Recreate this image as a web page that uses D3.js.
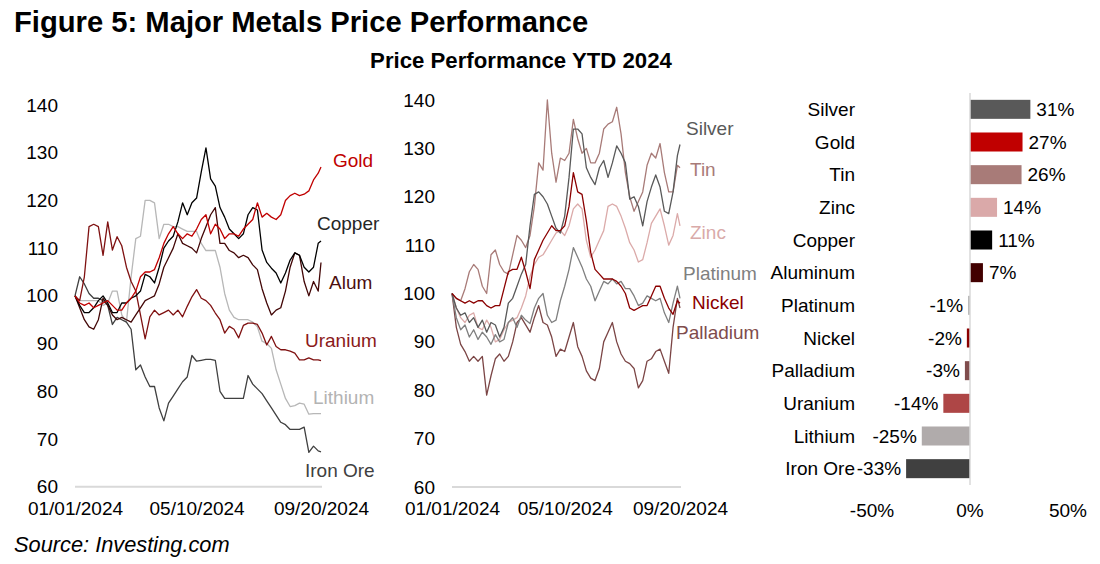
<!DOCTYPE html>
<html><head><meta charset="utf-8">
<script src="https://cdn.jsdelivr.net/npm/d3@7"></script>
<style>
html,body{margin:0;padding:0;background:#fff;}
svg{display:block;font-family:"Liberation Sans",Arial,Helvetica,sans-serif;}
</style></head><body>
<svg id="chart" width="1100" height="564"></svg>
<script>
// ---------- DATA ----------
const startDate = new Date(2024, 0, 1);
const endDate = new Date(2024, 8, 20);
const dayOffsets = d3.range(0, 261, 5).concat([263]);
const dates = dayOffsets.map(d => d3.timeDay.offset(startDate, d));
const xTickDates = [new Date(2024, 0, 1), new Date(2024, 4, 10), new Date(2024, 8, 20)];
const xTickLabels = ["01/01/2024", "05/10/2024", "09/20/2024"];
const yTicks = [60, 70, 80, 90, 100, 110, 120, 130, 140];

// Left panel
const gold = [100,98.5,98,98.5,97.5,98,98.5,99,98,97,97,98.5,99.5,101,104,105,105,105.5,108,111,113,114.5,113,112,113,112.5,114,116,117,113,115,114,112,113,113,112.5,114,115,116,119.5,116.5,117.3,116.5,116,117,120,121,121.5,121,121.3,122,124.3,125.7,127];
const copper = [100,98,96.5,96.5,97.5,99,100,98.5,96.5,96.5,98.5,98.5,99.5,100,101,104.5,104,102.7,106,110,111.5,112.5,115.5,119.5,117,119.5,120.5,126,131,124.5,123,118.5,116.5,114,113,112,113,117,118.5,118,109.6,107,105.8,104.8,102.7,104.8,107.5,109,108.5,106,105,106,111,111.5];
const alum = [100,97.5,95,93.5,93,95,99.5,98,96,95,95.5,95,94.5,96,97.5,99,99.5,100,102.5,106,108,110,113,111,110.5,110,109,112,114.5,117,118.5,111,111,109.5,109,108,108.5,108,106.5,105.5,101.5,98.5,96,97,97.5,101,106,109,108.5,103,100,103,101,107];
const uranium = [100,99,104,114.5,115,114.5,108.5,115.5,109.6,112.4,110.5,106,103,101,96,91,95.6,97,96,96.5,97,96,97,95.6,97.8,99.8,101.3,99.5,99,98,96.4,95,92.2,93.6,93,91.2,93.8,94.3,94.3,94,92.2,89.7,91.5,89.4,88.7,88.7,88.4,88,86.6,86.6,87,86.6,86.6,86.4];
const lithium = [100,99,99,99,99,99,98,98.5,101,101,96,94.5,104,112,112.5,120,120,119.5,112,115,115,114.5,114.5,114,113.5,113.5,113.5,111,109.5,109.5,109.5,106,100.5,97,95.5,95,95,95,94.5,93.5,90.5,90,89,84.5,81.5,78.5,76.8,77,77.5,77.3,75.2,75.3,75.3,75.3];
const ironOre = [100,104,102.5,100.5,99.5,99.5,99,98,94,95.5,95,94.5,93,84.5,85.5,83,81,81,76.5,73.8,77.5,79,80.5,82,83,87.5,86.3,86.5,86.7,86.7,86.5,80,78.5,78.5,78.5,78.5,78.5,83.3,81.5,80.5,79.5,78,76.5,75,73.5,73,72,72,72,72.5,67.2,68.5,67.5,67.3];

// Middle panel
const silver = [100,97,95.5,96,94,95,93,94.5,92,94,93.5,91,93,98,99,101.5,104,106,114,120.5,121,120,118.5,116,113.5,112.5,116,124,134,134,133,126,124,122.5,126,127.5,124,127,130.5,129,127,119.5,120,118,114,119,122,124.5,122,117,116.5,121,128.5,130.8];
const tin = [100,99,98.5,101,104.5,106,105,101.5,100,108,109,106,104.5,104,108,112,111,109.5,112,118,127,125.5,140,129,123,128,127.5,129,136,132,129,130,127,127,129,134,135,135.5,138.5,133,125,120,117,119,121,126.5,129,128,131,125,121,121,126.5,126];
const zinc = [100,97,95,94,95.5,96,93,92.5,94.5,93,90,90.5,92.5,94,94.5,95,97,99.5,103.5,106,107.5,108,109.5,111,112.5,113,112,114,117.5,118.5,117.5,111,107.5,109,111,113,118,118.5,118,116,113.5,110.5,109,106.5,107,110.5,114.5,116,117.5,114,110,112,116.5,114];
const platinum = [100,95,92.5,93.5,91,92.5,90.5,92,91,89.5,91.5,90,90.5,94,95,93,95.5,94.5,93.8,97,99,100,95.5,94,94.5,98.5,101.5,105,109.5,107.5,105.5,103,101.5,98.5,100.5,102.5,102,103,102,102.5,101,101,99.5,97.5,98,99.5,99,98.5,99,96,94,98,101.5,99];
const nickel = [100,99,98.5,98,98.5,98,98.5,98.5,97.5,97,97.5,97.5,101,104.5,105,105,107.5,104.5,101,107,109,111,112.5,114,113,113,114,118,125,121,120.5,115,108.5,105,104,103,103,103,102.5,101.5,100,97,96.5,97,97.5,97.5,99.5,101.5,101.5,99,97,95.7,98.5,98];
const palladium = [100,93,89.5,88,86,87,86,87,79,83,86.5,87.5,86,87,90,94,95,93.5,92,95,97.5,94,93.5,91,87,88.5,88,91,94,89,87,84,82.5,82,84.5,90,92,94,90,87.5,86,85.5,84.5,80.5,82,86,86.5,88,88.5,86,83.5,93,99,97];

// Right panel (YTD %)
const barCategories = ["Silver","Gold","Tin","Zinc","Copper","Aluminum","Platinum","Nickel","Palladium","Uranium","Lithium","Iron Ore"];
const barValues = [30.8,26.8,26.3,13.8,11.3,6.6,-0.9,-1.6,-2.6,-13.6,-24.6,-32.6];
const barTicks = [-50, 0, 50];

// ---------- STYLES ----------
const FONT = 19;
const leftSeries = [
  {name: "Lithium", values: lithium, color: "#B7B7B7", labelColor: "#B3B3B3", lx: 313, lv: 78.8},
  {name: "Iron Ore", values: ironOre, color: "#404040", labelColor: "#404040", lx: 305, lv: 63.5},
  {name: "Uranium", values: uranium, color: "#7F1111", labelColor: "#8B1A1A", lx: 305, lv: 90.6},
  {name: "Alum", values: alum, color: "#420606", labelColor: "#4B0F0F", lx: 329, lv: 102.9},
  {name: "Copper", values: copper, color: "#000000", labelColor: "#262626", lx: 317, lv: 115.1},
  {name: "Gold", values: gold, color: "#C00000", labelColor: "#C00000", lx: 333, lv: 128.5}
];
const midSeries = [
  {name: "Palladium", values: palladium, color: "#7B4545", labelColor: "#7F4C4C", lx: 676, lv: 92},
  {name: "Zinc", values: zinc, color: "#DBAAA9", labelColor: "#D9AAA9", lx: 690, lv: 112.7},
  {name: "Platinum", values: platinum, color: "#7F7F7F", labelColor: "#7F7F7F", lx: 683, lv: 104.2},
  {name: "Tin", values: tin, color: "#A87B78", labelColor: "#A87B78", lx: 690, lv: 125.7},
  {name: "Silver", values: silver, color: "#595959", labelColor: "#595959", lx: 686, lv: 134.2},
  {name: "Nickel", values: nickel, color: "#8B0000", labelColor: "#8B0000", lx: 692, lv: 98.2}
];
const barColors = ["#595959","#C00000","#A87B78","#DAA9A9","#000000","#420000","#A6A6A6","#8B0000","#7F4C4C","#AE4646","#B0ABAB","#404040"];

// ---------- DRAW ----------
const svg = d3.select("#chart");
svg.append("rect").attr("width", 1100).attr("height", 564).attr("fill", "#fff");

svg.append("text").attr("x", 14).attr("y", 32)
  .attr("font-size", 29.2).attr("font-weight", "bold").attr("fill", "#000")
  .text("Figure 5: Major Metals Price Performance");
svg.append("text").attr("x", 521).attr("y", 68).attr("text-anchor", "middle")
  .attr("font-size", 22.2).attr("font-weight", "bold").attr("fill", "#000")
  .text("Price Performance YTD 2024");
svg.append("text").attr("x", 14).attr("y", 552)
  .attr("font-size", 21.8).attr("font-style", "italic").attr("fill", "#000")
  .text("Source: Investing.com");

function linePanel(series, x0, x1, yBottom, yTop) {
  const x = d3.scaleTime().domain([startDate, endDate]).range([x0, x1]);
  const y = d3.scaleLinear().domain([60, 140]).range([yBottom, yTop]);
  const g = svg.append("g");

  g.append("line").attr("x1", x0).attr("x2", x1 + 1)
    .attr("y1", y(60)).attr("y2", y(60))
    .attr("stroke", "#D9D9D9").attr("stroke-width", 2);

  const ya = d3.axisLeft(y).tickValues(yTicks).tickSize(0).tickPadding(17);
  const yg = g.append("g").attr("transform", `translate(${x0},0)`).call(ya);
  yg.select(".domain").remove();
  yg.selectAll("text").attr("font-size", FONT).attr("fill", "#000").attr("font-family", null);

  const xa = d3.axisBottom(x).tickValues(xTickDates)
    .tickFormat((d, i) => xTickLabels[i]).tickSize(0).tickPadding(15);
  const xg = g.append("g").attr("transform", `translate(0,${y(60)})`).call(xa);
  xg.select(".domain").remove();
  xg.selectAll("text").attr("font-size", FONT).attr("fill", "#000").attr("font-family", null);

  const line = d3.line().x((d, i) => x(dates[i])).y(d => y(d));
  series.forEach(s => {
    g.append("path").datum(s.values)
      .attr("d", line).attr("fill", "none")
      .attr("stroke", s.color).attr("stroke-width", 1.3)
      .attr("stroke-linejoin", "round");
  });
  series.forEach(s => {
    g.append("text").attr("x", s.lx).attr("y", y(s.lv)).attr("dy", "0.35em")
      .attr("font-size", FONT).attr("fill", s.labelColor).text(s.name);
  });
}

linePanel(leftSeries, 75, 321, 486.7, 105);
linePanel(midSeries, 452, 680, 487, 100);

// Bar panel
const xb = d3.scaleLinear().domain([-50, 50]).range([872, 1068]);
const yb = d3.scaleBand().domain(barCategories).range([93, 485])
  .paddingInner(0.418).paddingOuter(0.209);
const bg = svg.append("g");

bg.selectAll("rect.bar").data(barCategories).enter().append("rect")
  .attr("class", "bar")
  .attr("x", (d, i) => Math.min(xb(0), xb(barValues[i])))
  .attr("width", (d, i) => Math.abs(xb(barValues[i]) - xb(0)))
  .attr("y", d => yb(d)).attr("height", yb.bandwidth())
  .attr("fill", (d, i) => barColors[i]);

bg.append("line").attr("x1", xb(0)).attr("x2", xb(0))
  .attr("y1", 93).attr("y2", 485)
  .attr("stroke", "#D9D9D9").attr("stroke-width", 1.5);

bg.selectAll("text.cat").data(barCategories).enter().append("text")
  .attr("class", "cat").attr("x", 855)
  .attr("y", d => yb(d) + yb.bandwidth() / 2).attr("dy", "0.35em")
  .attr("text-anchor", "end").attr("font-size", FONT).attr("fill", "#000")
  .text(d => d);

const fmt = v => Math.round(v).toString() + "%";
bg.selectAll("text.val").data(barCategories).enter().append("text")
  .attr("class", "val")
  .attr("x", (d, i) => barValues[i] >= 0 ? xb(barValues[i]) + 6 : xb(barValues[i]) - 5)
  .attr("y", d => yb(d) + yb.bandwidth() / 2).attr("dy", "0.35em")
  .attr("text-anchor", (d, i) => barValues[i] >= 0 ? "start" : "end")
  .attr("font-size", FONT).attr("fill", "#000")
  .text((d, i) => fmt(barValues[i]));

bg.selectAll("text.tick").data(barTicks).enter().append("text")
  .attr("class", "tick").attr("x", d => xb(d)).attr("y", 510).attr("dy", "0.35em")
  .attr("text-anchor", "middle").attr("font-size", FONT).attr("fill", "#000")
  .text(d => d + "%");
</script>
</body></html>
